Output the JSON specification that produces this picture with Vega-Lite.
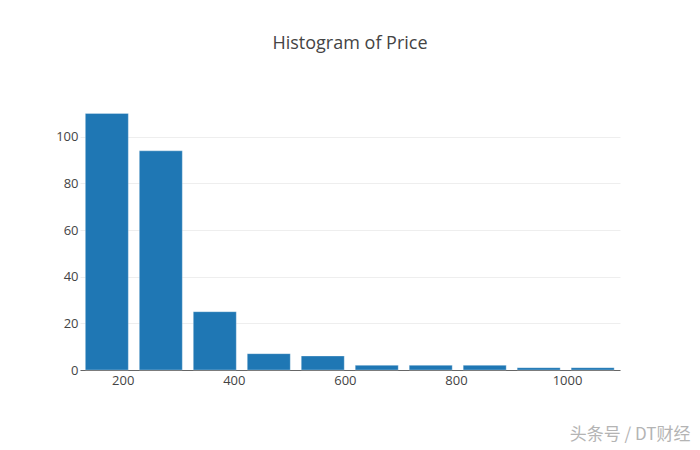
{
  "$schema": "https://vega.github.io/schema/vega-lite/v6.json",
  "width": 540,
  "height": 270,
  "autosize": {"type": "none"},
  "padding": {"left": 80, "top": 100, "right": 80, "bottom": 80},
  "background": "white",
  "title": {
    "text": "Histogram of Price",
    "font": "Open Sans",
    "fontSize": 18,
    "fontWeight": "normal",
    "color": "#444444",
    "anchor": "middle",
    "offset": 47
  },
  "data": {
    "values": [
      {"price": 171.4, "count": 110},
      {"price": 268.6, "count": 94},
      {"price": 365.8, "count": 25},
      {"price": 463.0, "count": 7},
      {"price": 560.2, "count": 6},
      {"price": 657.4, "count": 2},
      {"price": 754.6, "count": 2},
      {"price": 851.8, "count": 2},
      {"price": 949.0, "count": 1},
      {"price": 1046.2, "count": 1}
    ]
  },
  "mark": {"type": "bar", "width": 43, "color": "#1f77b4", "stroke": "#ffffff", "strokeWidth": 0.5, "strokeOpacity": 0.6},
  "encoding": {
    "x": {
      "field": "price",
      "type": "quantitative",
      "scale": {"domain": [123.1, 1095.4], "nice": false, "zero": false, "padding": 0},
      "axis": {
        "values": [200, 400, 600, 800, 1000],
        "format": "d",
        "grid": false,
        "ticks": false,
        "domain": true,
        "domainColor": "#666666",
        "domainWidth": 1,
        "labelFont": "Open Sans",
        "labelFontSize": 13,
        "labelColor": "#444444",
        "labelPadding": 4,
        "title": "头条号 / DT财经",
        "titleFont": "Noto Sans CJK SC",
        "titleFontSize": 17,
        "titleFontWeight": "normal",
        "titleColor": "#b4b4b4",
        "titleAnchor": "end",
        "titleAlign": "right",
        "titleBaseline": "middle",
        "titleX": 610,
        "titleY": 64
      }
    },
    "y": {
      "field": "count",
      "type": "quantitative",
      "scale": {"domain": [0, 115.8], "nice": false},
      "axis": {
        "values": [0, 20, 40, 60, 80, 100],
        "grid": true,
        "gridColor": "#eeeeee",
        "ticks": false,
        "domain": false,
        "labelFont": "Open Sans",
        "labelFontSize": 13,
        "labelColor": "#444444",
        "labelPadding": 2,
        "title": null
      }
    }
  },
  "config": {"view": {"stroke": null}}
}
